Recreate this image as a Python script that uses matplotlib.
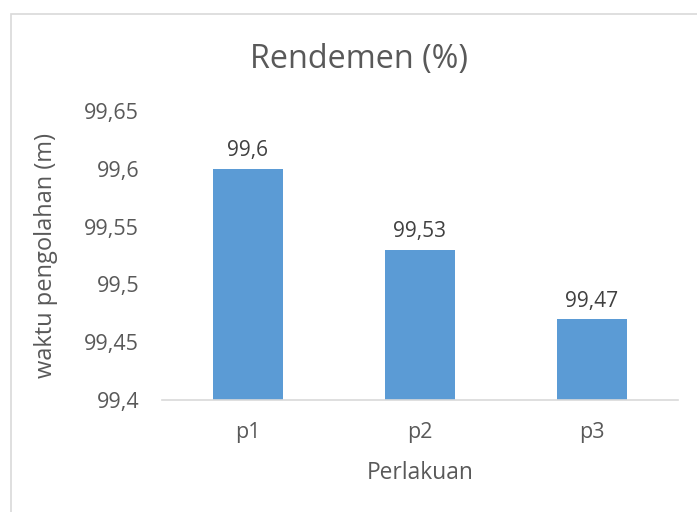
import matplotlib
matplotlib.use("Agg")
import matplotlib.pyplot as plt
from matplotlib.patches import Rectangle

categories = ["p1", "p2", "p3"]
values = [99.6, 99.53, 99.47]
value_labels = ["99,6", "99,53", "99,47"]
yticks = [99.4, 99.45, 99.5, 99.55, 99.6, 99.65]
ytick_labels = ["99,4", "99,45", "99,5", "99,55", "99,6", "99,65"]

plt.rcParams['font.family'] = ['Open Sans', 'DejaVu Sans']
W, H = 697, 512
fig = plt.figure(figsize=(W/100, H/100), dpi=100)

# outer border
fig.patches.append(Rectangle((11/W, -0.01), 1.02, 1 - 14/H + 0.01, transform=fig.transFigure,
                             fill=False, edgecolor="#d9d9d9", linewidth=1.2))

ax = fig.add_axes([162/W, 1 - 400/H, (678-162)/W, (400-111)/H])
x = range(len(categories))
ax.bar(x, [v - 99.4 for v in values], bottom=99.4, width=0.41, color="#5b9bd5")
ax.set_xlim(-0.5, 2.5)
ax.set_ylim(99.4, 99.65)
ax.set_yticks(yticks)
ax.set_yticklabels(ytick_labels)
ax.set_xticks(list(x))
ax.set_xticklabels(categories)
for s in ["top", "right", "left"]:
    ax.spines[s].set_visible(False)
ax.spines["bottom"].set_color("#d9d9d9")
ax.spines["bottom"].set_linewidth(1.2)
ax.tick_params(axis="both", length=0, labelsize=15.5, colors="#595959")
ax.tick_params(axis="y", pad=16.5)
ax.tick_params(axis="x", pad=16)
for i, (v, lab) in enumerate(zip(values, value_labels)):
    ax.annotate(lab, (i, v), xytext=(0, 9), textcoords="offset points",
                ha="center", va="baseline", fontsize=15, color="#404040")
fig.text(420/W, 1 - 479/H, "Perlakuan", ha="center", va="baseline", fontsize=16.4, color="#595959")
fig.text(46/W, 1 - 256/H, "waktu pengolahan (m)", ha="center", va="center", rotation=90,
         fontsize=17, color="#595959")
fig.text(359.5/W, 1 - 68/H, "Rendemen (%)", ha="center", va="baseline", fontsize=23.3, color="#595959")

fig.savefig("out.png", dpi=100)
